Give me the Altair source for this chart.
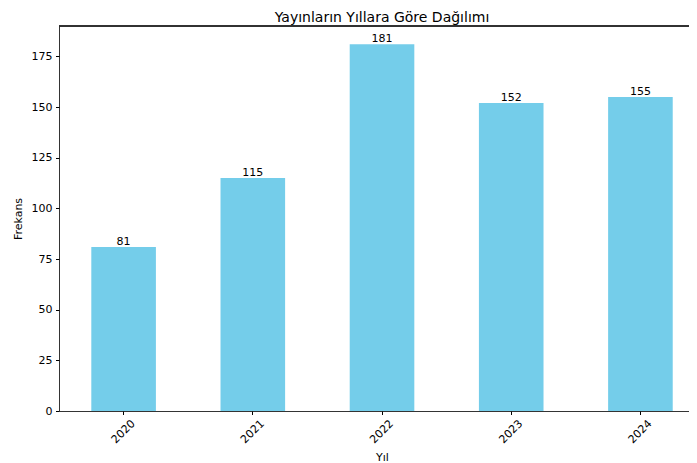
import altair as alt
import pandas as pd

years = ["2020", "2021", "2022", "2023", "2024"]
counts = [81, 115, 181, 152, 155]
y_ticks = [0, 25, 50, 75, 100, 125, 150, 175]

df = pd.DataFrame({"Yıl": years, "Frekans": counts})

FONT = "DejaVu Sans"
BAR = "#74CDEA"
FS = 11
W = 630
H = 385

x_enc = alt.X(
    "Yıl:N",
    sort=years,
    scale=alt.Scale(paddingInner=0.5, paddingOuter=0.188, align=0.665),
    axis=alt.Axis(
        title="Yıl",
        labelAngle=-45,
        labelAlign="center",
        labelBaseline="middle",
        labelPadding=17,
        tickSize=3.5,
        tickColor="black",
        domainColor="black",
        domainWidth=0.8,
        labelFont=FONT,
        labelFontSize=FS,
        labelColor="black",
        titleFont=FONT,
        titleFontSize=FS,
        titleFontWeight="normal",
        titleColor="black",
        titleBaseline="top",
        titleY=40,
        titleX=323,
        grid=False,
    ),
)

y_enc = alt.Y(
    "Frekans:Q",
    scale=alt.Scale(domain=[0, 190.05], nice=False, zero=True),
    axis=alt.Axis(
        title="Frekans",
        values=y_ticks,
        tickSize=3.5,
        tickColor="black",
        domainColor="black",
        domainWidth=0.8,
        labelPadding=3.5,
        labelFont=FONT,
        labelFontSize=FS,
        labelColor="black",
        titleFont=FONT,
        titleFontSize=FS,
        titleFontWeight="normal",
        titleColor="black",
        titleBaseline="middle",
        titleX=-41,
        titleY=192.5,
        grid=False,
    ),
)

base = alt.Chart(df)

bars = base.mark_bar(color=BAR).encode(x=x_enc, y=y_enc)

labels = base.mark_text(
    baseline="bottom", align="center", font=FONT, fontSize=FS, color="black", dy=0
).encode(x=alt.X("Yıl:N", sort=years), y="Frekans:Q", text="Frekans:Q")

top_spine = base.mark_rule(color="#222222", strokeWidth=0.8).encode(
    x=alt.value(0), x2=alt.value(W), y=alt.value(0)
)

chart = (
    alt.layer(bars, labels, top_spine)
    .properties(
        width=W,
        height=H,
        title=alt.TitleParams(
            "Yayınların Yıllara Göre Dağılımı",
            font=FONT,
            fontSize=14,
            fontWeight="normal",
            color="black",
            baseline="alphabetic",
            offset=8,
            dy=18,
            dx=8,
            anchor="middle",
            frame="group",
        ),
        autosize=alt.AutoSizeParams(type="none"),
        padding={"left": 51, "top": 18, "right": 0, "bottom": 52},
    )
    .configure_view(stroke=None)
)

chart.save("out.html", embed_options={"renderer": "svg", "actions": False})
